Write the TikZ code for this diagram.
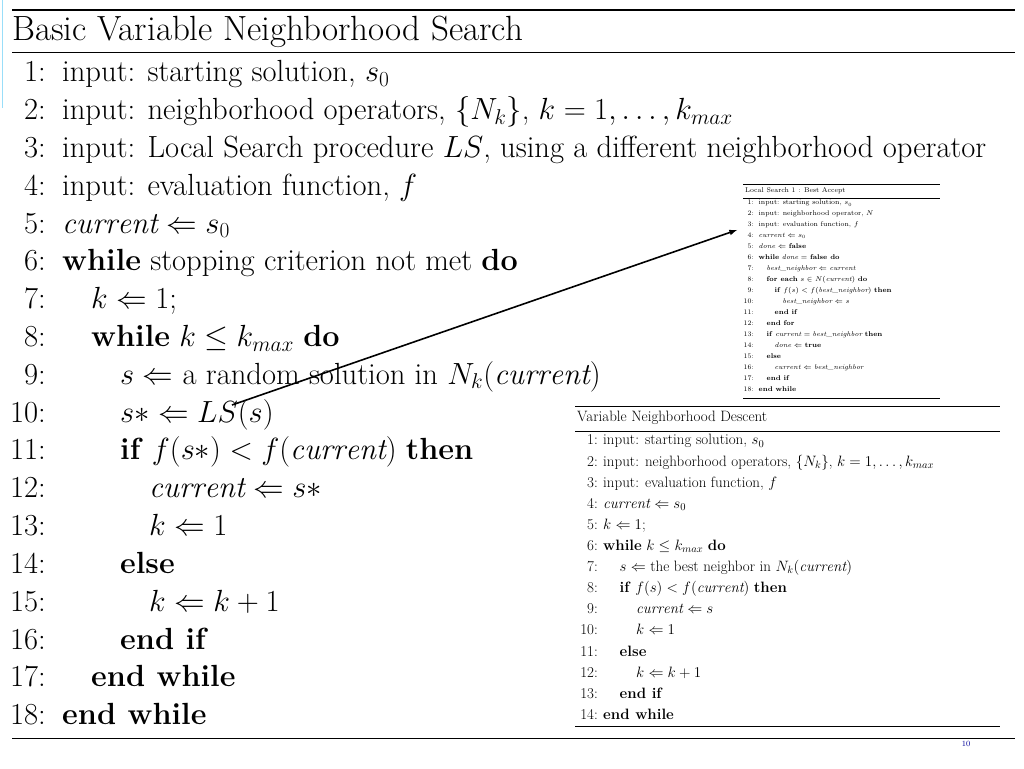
\RequirePackage{fix-cm}
\documentclass[tikz,border=0pt]{standalone}
\usepackage{amsmath,amssymb}
\usepackage{fontspec}
\begin{document}
\begin{tikzpicture}[x=1pt,y=1pt,
  ln/.style={anchor=base west,inner sep=0pt},
  nm/.style={anchor=base east,inner sep=0pt},
  arr/.style={-latex,line width=1.6pt}]
\useasboundingbox (0,0) rectangle (1024,768);
\fill[white] (0,0) rectangle (1024,768);
\draw[cyan!40,line width=1pt] (2,768) -- (2,660);
% ---------- main algorithm ----------
\def\F{\fontsize{30.6}{34}\selectfont}
\draw[line width=1.6pt] (12,758) -- (1015,758);
\node[ln] (mt) at (12,727) {\fontsize{35}{38}\selectfont Basic Variable Neighborhood Search};
\draw[line width=0.8pt] (12,716) -- (1015,716);
\newcommand\ml[4]{\node[nm] (mn#1) at (46,{686-(#1-1)*37.8}) {\F #1:};
  \node[ln] (m#1) at ({62+#2*29},{686-(#1-1)*37.8}) {\F #3};}
\ml{1}{0}{input: starting solution, $s_0$}{}
\ml{2}{0}{input: neighborhood operators, $\{N_k\}$, $k=1,\ldots,k_{max}$}{}
\ml{3}{0}{input: Local Search procedure $LS$, using a different neighborhood operator}{}
\ml{4}{0}{input: evaluation function, $f$}{}
\ml{5}{0}{$\mathit{current} \Leftarrow s_0$}{}
\ml{6}{0}{\textbf{while} stopping criterion not met \textbf{do}}{}
\ml{7}{1}{$k \Leftarrow 1$;}{}
\ml{8}{1}{\textbf{while} $k \le k_{max}$ \textbf{do}}{}
\ml{9}{2}{$s \Leftarrow$ a random solution in $N_k(\mathit{current})$}{}
\ml{10}{2}{$s{*} \Leftarrow LS(s)$}{}
\ml{11}{2}{\textbf{if} $f(s{*}) < f(\mathit{current})$ \textbf{then}}{}
\ml{12}{3}{$\mathit{current} \Leftarrow s{*}$}{}
\ml{13}{3}{$k \Leftarrow 1$}{}
\ml{14}{2}{\textbf{else}}{}
\ml{15}{3}{$k \Leftarrow k+1$}{}
\ml{16}{2}{\textbf{end if}}{}
\ml{17}{1}{\textbf{end while}}{}
\ml{18}{0}{\textbf{end while}}{}
\draw[line width=0.8pt] (12,30) -- (1015,30);
% ---------- LS box ----------
\def\S{\fontsize{6.9}{7.5}\selectfont}
\draw[line width=0.8pt] (743,584) -- (940,584);
\node[ln] (lt) at (745,575) {\S Local Search 1 : Best Accept};
\draw[line width=0.4pt] (743,570) -- (940,570);
\newcommand\lsl[3]{\node[nm] (ln#1) at (754,{563-(#1-1)*10.95}) {\S #1:};
  \node[ln] (l#1) at ({758.5+#2*8},{563-(#1-1)*10.95}) {\S #3};}
\lsl{1}{0}{input: starting solution, $s_0$}
\lsl{2}{0}{input: neighborhood operator, $N$}
\lsl{3}{0}{input: evaluation function, $f$}
\lsl{4}{0}{$\mathit{current} \Leftarrow s_0$}
\lsl{5}{0}{$\mathit{done} \Leftarrow$ \textbf{false}}
\lsl{6}{0}{\textbf{while} $\mathit{done}=$ \textbf{false do}}
\lsl{7}{1}{$\mathit{best\_neighbor} \Leftarrow \mathit{current}$}
\lsl{8}{1}{\textbf{for each} $s\in N(\mathit{current})$ \textbf{do}}
\lsl{9}{2}{\textbf{if} $f(s) < f(\mathit{best\_neighbor})$ \textbf{then}}
\lsl{10}{3}{$\mathit{best\_neighbor} \Leftarrow s$}
\lsl{11}{2}{\textbf{end if}}
\lsl{12}{1}{\textbf{end for}}
\lsl{13}{1}{\textbf{if} $\mathit{current}=\mathit{best\_neighbor}$ \textbf{then}}
\lsl{14}{2}{$\mathit{done} \Leftarrow$ \textbf{true}}
\lsl{15}{1}{\textbf{else}}
\lsl{16}{2}{$\mathit{current} \Leftarrow \mathit{best\_neighbor}$}
\lsl{17}{1}{\textbf{end if}}
\lsl{18}{0}{\textbf{end while}}
\draw[line width=0.8pt] (743,370) -- (940,370);
% ---------- VND box ----------
\def\V{\fontsize{15}{17}\selectfont}
\draw[line width=0.8pt] (575,362) -- (1000,362);
\node[ln] (vt) at (577,346) {\V Variable Neighborhood Descent};
\draw[line width=0.4pt] (575,337) -- (1000,337);
\newcommand\vl[3]{\node[nm] (vn#1) at (598,{323-(#1-1)*21.1}) {\V #1:};
  \node[ln] (v#1) at ({603+#2*16.5},{323-(#1-1)*21.1}) {\V #3};}
\vl{1}{0}{input: starting solution, $s_0$}
\vl{2}{0}{input: neighborhood operators, $\{N_k\}$, $k=1,\ldots,k_{max}$}
\vl{3}{0}{input: evaluation function, $f$}
\vl{4}{0}{$\mathit{current} \Leftarrow s_0$}
\vl{5}{0}{$k \Leftarrow 1$;}
\vl{6}{0}{\textbf{while} $k \le k_{max}$ \textbf{do}}
\vl{7}{1}{$s \Leftarrow$ the best neighbor in $N_k(\mathit{current})$}
\vl{8}{1}{\textbf{if} $f(s) < f(\mathit{current})$ \textbf{then}}
\vl{9}{2}{$\mathit{current} \Leftarrow s$}
\vl{10}{2}{$k \Leftarrow 1$}
\vl{11}{1}{\textbf{else}}
\vl{12}{2}{$k \Leftarrow k+1$}
\vl{13}{1}{\textbf{end if}}
\vl{14}{0}{\textbf{end while}}
\draw[line width=0.8pt] (575,42) -- (1000,42);
% ---------- arrow ----------
\coordinate (as) at (232,363);
\coordinate (ae) at (737,538);
\draw[arr] (as) -- (ae);
\node[text=blue!60!black,font=\fontsize{8}{9}\selectfont] (pg) at (966,24) {10};
\end{tikzpicture}
\end{document}
